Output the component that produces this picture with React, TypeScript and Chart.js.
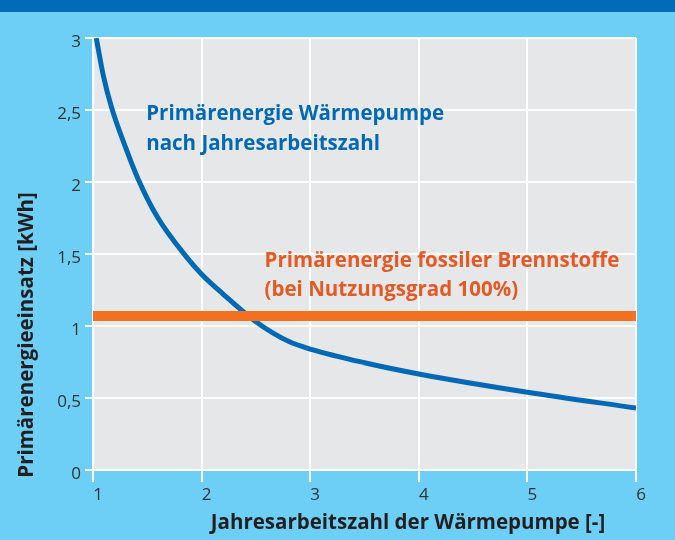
import React, { useEffect, useRef } from "react";
import { Chart, registerables } from "chart.js";

Chart.register(...registerables);

// Data
const jazValues = [1.03, 1.095, 1.17, 1.3, 1.41, 1.59, 1.86, 2.0, 2.19, 2.5, 2.81, 3, 3.5, 4, 5, 6];
const heatPumpEnergy = [3.0, 2.74, 2.52, 2.24, 2.03, 1.76, 1.48, 1.36, 1.227, 1.03, 0.89, 0.84, 0.745, 0.667, 0.54, 0.43];
const fossilX = [1, 6];
const fossilEnergy = [1.07, 1.07];

const yTitle = "Primärenergieeinsatz [kWh]";
const xTitle = "Jahresarbeitszahl der Wärmepumpe [-]";
const heatPumpLabel = ["Primärenergie Wärmepumpe", "nach Jahresarbeitszahl"];
const fossilLabel = ["Primärenergie fossiler Brennstoffe", "(bei Nutzungsgrad 100%)"];

const BG = "#6dcff6";
const BAND = "#006cb7";
const PLOT = "#e6e7e9";
const BLUE = "#0069b4";
const ORANGE = "#f37021";
const ORANGE_TEXT = "#e35a24";
const TEXT = "#231f20";
const BOLD_FONT = "'Open Sans', sans-serif";

const decorPlugin = {
  id: "decor",
  beforeDraw(chart: any) {
    const { ctx, width, height, chartArea } = chart;
    ctx.save();
    ctx.fillStyle = BG;
    ctx.fillRect(0, 0, width, height);
    ctx.fillStyle = BAND;
    ctx.fillRect(0, 0, width, 12);
    ctx.fillStyle = PLOT;
    ctx.fillRect(chartArea.left, chartArea.top, chartArea.right - chartArea.left, chartArea.bottom - chartArea.top);
    ctx.restore();
  },
  afterDraw(chart: any) {
    const { ctx } = chart;
    const xs = chart.scales.x;
    const ys = chart.scales.y;
    ctx.save();
    ctx.textBaseline = "middle";
    ctx.textAlign = "left";
    ctx.font = `bold 20.5px ${BOLD_FONT}`;
    ctx.fillStyle = BLUE;
    const bx = xs.getPixelForValue(1.49);
    ctx.fillText(heatPumpLabel[0], bx, ys.getPixelForValue(2.47));
    ctx.fillText(heatPumpLabel[1], bx, ys.getPixelForValue(2.26));
    ctx.fillStyle = ORANGE_TEXT;
    const ox = xs.getPixelForValue(2.58);
    ctx.fillText(fossilLabel[0], ox, ys.getPixelForValue(1.45));
    ctx.fillText(fossilLabel[1], ox, ys.getPixelForValue(1.25));

    ctx.fillStyle = TEXT;
    ctx.font = `bold 20.5px ${BOLD_FONT}`;
    ctx.textAlign = "center";
    ctx.fillText(xTitle, 408, 523);
    ctx.translate(27, 335);
    ctx.rotate(-Math.PI / 2);
    ctx.fillText(yTitle, 0, 0);
    ctx.restore();
  },
};

export default function App() {
  const ref = useRef<HTMLCanvasElement>(null);
  useEffect(() => {
    if (!ref.current) return;
    const chart = new Chart(ref.current, {
      type: "line",
      data: {
        datasets: [
          {
            data: fossilX.map((x, i) => ({ x, y: fossilEnergy[i] })),
            borderColor: ORANGE,
            borderWidth: 10,
            pointRadius: 0,
            order: 0,
          },
          {
            data: jazValues.map((x, i) => ({ x, y: heatPumpEnergy[i] })),
            borderColor: BLUE,
            borderWidth: 5,
            pointRadius: 0,
            cubicInterpolationMode: "monotone",
            order: 1,
          },
        ],
      },
      options: {
        responsive: false,
        animation: false,
        devicePixelRatio: 1,
        layout: { padding: { left: 0, top: 38, right: 39, bottom: 0 } },
        plugins: { legend: { display: false }, tooltip: { enabled: false } },
        scales: {
          x: {
            type: "linear",
            min: 1,
            max: 6,
            afterFit: (s: any) => { s.height = 70; },
            grid: { color: "#ffffff", lineWidth: 2, tickLength: 12, tickColor: "#ffffff", drawTicks: true },
            border: { display: false },
            ticks: {
              stepSize: 1,
              padding: 3,
              labelOffset: 5,
              color: "#333333",
              font: { family: "'Open Sans', sans-serif", size: 17 },
            },
          },
          y: {
            min: 0,
            max: 3,
            afterFit: (s: any) => { s.width = 93; },
            grid: { color: "#ffffff", lineWidth: 2, tickLength: 8, tickColor: "#ffffff" },
            border: { display: false },
            ticks: {
              stepSize: 0.5,
              padding: 4,
              labelOffset: 4,
              color: "#333333",
              font: { family: "'Open Sans', sans-serif", size: 17 },
              callback: (v: any) => String(v).replace(".", ","),
            },
          },
        },
      },
      plugins: [decorPlugin],
    });
    return () => chart.destroy();
  }, []);
  return (
    <div style={{ position: "absolute", left: 0, top: 0, width: 675, height: 540 }}>
      <canvas ref={ref} width={675} height={540} style={{ display: "block" }} />
    </div>
  );
}
